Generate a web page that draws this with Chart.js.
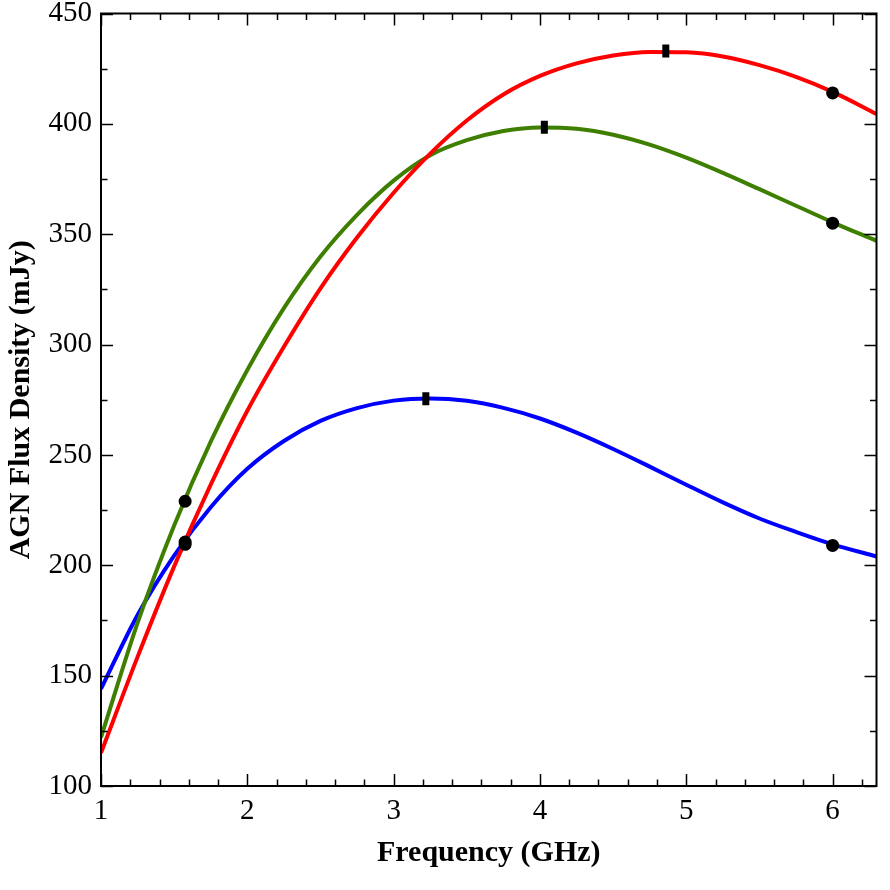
<!DOCTYPE html>
<html>
<head>
<meta charset="utf-8">
<script src="https://cdn.jsdelivr.net/npm/chart.js@4/dist/chart.umd.min.js"></script>
<style>
  html, body { margin: 0; padding: 0; background: #fff; }
  #wrap { width: 890px; height: 890px; }
</style>
</head>
<body>
<div id="wrap"><canvas id="c" width="890" height="890"></canvas></div>
<script>
// ---- data ----
const freq = [1.0, 1.25, 1.5, 1.75, 2.0, 2.25, 2.5, 2.75, 3.0, 3.25, 3.5, 3.75, 4.0, 4.25, 4.5, 4.75, 5.0, 5.25, 5.5, 5.75, 6.0, 6.3];
const redFlux   = [115, 158.5, 199.5, 236.5, 270, 299, 325.5, 348.5, 368.8, 386.5, 401.5, 413.3, 421.7, 427.4, 431, 432.6, 432.4, 430.5, 426.6, 421.3, 414.5, 404.5];
const greenFlux = [122, 173.9, 218, 256, 288.5, 316.5, 339.9, 358.8, 374.3, 385.8, 392.6, 396.8, 398.4, 397.8, 395.1, 390.6, 384.7, 377.8, 370.4, 362.9, 355.4, 347];
const blueFlux  = [144, 177.5, 204.4, 226.3, 243.7, 256.3, 265.4, 271.2, 274.6, 275.6, 274.5, 271.3, 266.5, 260.1, 252.7, 244.7, 236.5, 228.5, 221.2, 215.1, 209.5, 204];

const circleFreq = [1.575, 1.575, 1.575, 6.0, 6.0, 6.0];
const circleFlux = [229, 210.5, 209.5, 414, 355, 209];

const peakFreq = [3.22, 4.03, 4.86];
const peakFlux = [275.5, 398.5, 433];

const xTicks = [1, 2, 3, 4, 5, 6];
const yTicks = [100, 150, 200, 250, 300, 350, 400, 450];
const xRange = [1, 6.3];
const yRange = [100, 450];
const xMinorStep = 0.2;
const yMinorStep = 25;

const xTitle = 'Frequency (GHz)';
const yTitle = 'AGN Flux Density (mJy)';

// ---- build datasets ----
const toPts = (xs, ys) => xs.map((v, i) => ({ x: v, y: ys[i] }));
const FONT = "'Liberation Serif', 'Times New Roman', serif";

const curve = (data, color) => ({
  data: toPts(freq, data),
  showLine: true,
  borderColor: color,
  backgroundColor: color,
  borderWidth: 4,
  pointRadius: 0,
  pointHoverRadius: 0,
  cubicInterpolationMode: 'monotone',
  order: 3
});

const ticksPlugin = {
  id: 'frameTicks',
  afterDraw(chart) {
    const { ctx, chartArea: a, scales: { x, y } } = chart;
    ctx.save();
    ctx.strokeStyle = '#000';
    ctx.lineWidth = 1.5;
    const majorLen = 12, minorLen = 6.5;
    const isMajor = (v, list) => list.some(t => Math.abs(t - v) < 1e-6);
    ctx.beginPath();
    for (let i = 0; ; i++) {
      const v = xRange[0] + i * xMinorStep;
      if (v > xRange[1] + 1e-9) break;
      const px = Math.round(x.getPixelForValue(v)) + 0.5;
      const len = isMajor(Math.round(v * 1000) / 1000, xTicks) ? majorLen : minorLen;
      ctx.moveTo(px, a.bottom); ctx.lineTo(px, a.bottom - len);
      ctx.moveTo(px, a.top); ctx.lineTo(px, a.top + len);
    }
    for (let i = 0; ; i++) {
      const v = yRange[0] + i * yMinorStep;
      if (v > yRange[1] + 1e-9) break;
      const py = Math.round(y.getPixelForValue(v)) + 0.5;
      const len = isMajor(v, yTicks) ? majorLen : minorLen;
      ctx.moveTo(a.left, py); ctx.lineTo(a.left + len, py);
      ctx.moveTo(a.right, py); ctx.lineTo(a.right - len, py);
    }
    ctx.stroke();
    ctx.lineWidth = 2;
    ctx.strokeRect(a.left, a.top, a.right - a.left, a.bottom - a.top);
    ctx.restore();
  }
};

new Chart(document.getElementById('c'), {
  type: 'scatter',
  data: {
    datasets: [
      curve(redFlux, '#ff0000'),
      curve(greenFlux, '#3f7f00'),
      curve(blueFlux, '#0000ff'),
      {
        data: toPts(circleFreq, circleFlux),
        pointStyle: 'circle',
        pointRadius: 6.5,
        backgroundColor: '#000',
        borderColor: '#000',
        borderWidth: 0,
        showLine: false,
        order: 1
      },
      {
        data: toPts(peakFreq, peakFlux),
        pointStyle: 'line',
        rotation: 90,
        pointRadius: 6.5,
        borderWidth: 7,
        borderColor: '#000',
        backgroundColor: '#000',
        showLine: false,
        order: 1
      }
    ]
  },
  options: {
    responsive: false,
    animation: false,
    events: [],
    layout: { padding: { left: 0, right: 13, top: 10, bottom: 0 } },
    plugins: { legend: { display: false }, tooltip: { enabled: false } },
    scales: {
      x: {
        type: 'linear',
        min: xRange[0], max: xRange[1],
        afterBuildTicks: s => { s.ticks = xTicks.map(v => ({ value: v })); },
        afterFit: s => { s.height = 104; s.paddingLeft = 0; s.paddingRight = 0; },
        grid: { display: false, drawTicks: false },
        border: { display: false },
        ticks: { color: '#000', padding: 8, font: { family: FONT, size: 29 }, maxRotation: 0 },
        title: { display: true, text: xTitle, color: '#000', font: { family: FONT, size: 30, weight: 'bold' }, padding: { top: 0, bottom: 19 } }
      },
      y: {
        type: 'linear',
        min: yRange[0], max: yRange[1],
        afterBuildTicks: s => { s.ticks = yTicks.map(v => ({ value: v })); },
        afterFit: s => { s.width = 101; s.paddingTop = 0; s.paddingBottom = 0; },
        grid: { display: false, drawTicks: false },
        border: { display: false },
        ticks: { color: '#000', padding: 9, font: { family: FONT, size: 29 } },
        title: { display: true, text: yTitle, color: '#000', font: { family: FONT, size: 30, weight: 'bold' }, padding: { top: 3, bottom: 0 } }
      }
    }
  },
  plugins: [ticksPlugin]
});
</script>
</body>
</html>
